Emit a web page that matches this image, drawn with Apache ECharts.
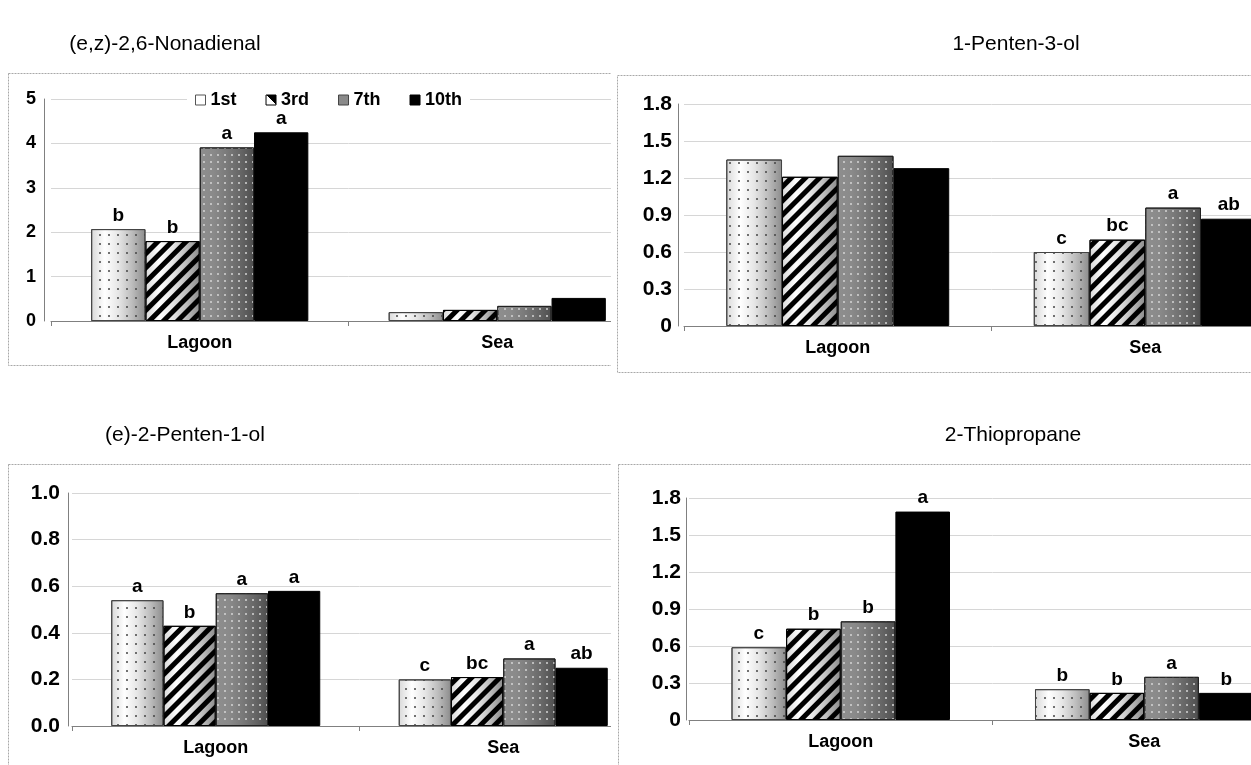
<!DOCTYPE html>
<html><head><meta charset="utf-8">
<script src="https://cdn.jsdelivr.net/npm/echarts@6/dist/echarts.min.js"></script>
<style>
html,body{margin:0;padding:0;background:#fff;width:1251px;height:765px;overflow:hidden;}
.q{position:absolute;overflow:hidden;}
.c{position:absolute;left:0;top:0;}
</style></head><body>
<div class="q" style="left:0;top:0;width:611px;height:382px"><div class="c" id="c1" style="width:720px;height:382px"></div></div>
<div class="q" style="left:612px;top:0;width:639px;height:382px"><div class="c" id="c2" style="width:720px;height:382px"></div></div>
<div class="q" style="left:0;top:382px;width:611px;height:383px"><div class="c" id="c3" style="width:720px;height:383px"></div></div>
<div class="q" style="left:612px;top:382px;width:639px;height:383px"><div class="c" id="c4" style="width:720px;height:383px"></div></div>
<script>
// ---------- data ----------
const categories = ['Lagoon', 'Sea'];
const seriesNames = ['1st', '3rd', '7th', '10th'];

// (e,z)-2,6-Nonadienal  [Lagoon, Sea]
const nonadienal1st  = [2.07, 0.20];
const nonadienal3rd  = [1.80, 0.25];
const nonadienal7th  = [3.91, 0.34];
const nonadienal10th = [4.25, 0.52];
const nonadienalLetters = [['b', ''], ['b', ''], ['a', ''], ['a', '']];
const nonadienalTicks = [0, 1, 2, 3, 4, 5];

// 1-Penten-3-ol
const pentenol1st  = [1.35, 0.60];
const pentenol3rd  = [1.21, 0.70];
const pentenol7th  = [1.38, 0.96];
const pentenol10th = [1.28, 0.87];
const pentenolLetters = [['', 'c'], ['', 'bc'], ['', 'a'], ['', 'ab']];
const pentenolTicks = [0, 0.3, 0.6, 0.9, 1.2, 1.5, 1.8];

// (e)-2-Penten-1-ol
const pentenOne1st  = [0.54, 0.20];
const pentenOne3rd  = [0.43, 0.21];
const pentenOne7th  = [0.57, 0.29];
const pentenOne10th = [0.58, 0.25];
const pentenOneLetters = [['a', 'c'], ['b', 'bc'], ['a', 'a'], ['a', 'ab']];
const pentenOneTicks = ['0.0', '0.2', '0.4', '0.6', '0.8', '1.0'];

// 2-Thiopropane
const thio1st  = [0.59, 0.25];
const thio3rd  = [0.74, 0.22];
const thio7th  = [0.80, 0.35];
const thio10th = [1.69, 0.22];
const thioLetters = [['c', 'b'], ['b', 'b'], ['b', 'a'], ['a', 'b']];
const thioTicks = [0, 0.3, 0.6, 0.9, 1.2, 1.5, 1.8];

// ---------- styles ----------
const FONT = '"Liberation Sans", Arial, sans-serif';
function hgrad(stops) {
  return { type: 'linear', x: 0, y: 0, x2: 1, y2: 0,
    colorStops: stops.map((c, i) => ({ offset: i / (stops.length - 1), color: c })) };
}
const barStyles = [
  { color: hgrad(['#d8d8d8', '#ffffff', '#e6e6e6', '#bdbdbd', '#8c8c8c']), borderColor: '#444', borderWidth: 1,
    decal: { symbol: 'circle', symbolSize: 1, color: '#444', dashArrayX: [2, 7], dashArrayY: [2, 7] } },
  { color: hgrad(['#d8d8d8', '#ffffff', '#e6e6e6', '#bdbdbd', '#8c8c8c']), borderColor: '#000', borderWidth: 1,
    decal: { symbol: 'rect', symbolSize: 1, color: '#000', dashArrayX: [1, 0], dashArrayY: [4.5, 4.5], rotation: -Math.PI / 4 } },
  { color: hgrad(['#8e8e8e', '#8a8a8a', '#7a7a7a', '#666666', '#4e4e4e']), borderColor: '#222', borderWidth: 1,
    decal: { symbol: 'circle', symbolSize: 1, color: '#d4d4d4', dashArrayX: [1.6, 4.6], dashArrayY: [1.6, 4.6] } },
  { color: '#000', borderColor: '#000', borderWidth: 1 }
];
const legendIcons = [
  { color: '#fff', borderColor: '#555', borderWidth: 1, decal: 'none' },
  { color: { type: 'linear', x: 0, y: 1, x2: 1, y2: 0, colorStops: [
      { offset: 0, color: '#fff' }, { offset: 0.5, color: '#fff' }, { offset: 0.5, color: '#000' }, { offset: 1, color: '#000' }] },
    borderColor: '#000', borderWidth: 1, decal: 'none' },
  { color: '#8a8a8a', borderColor: '#444', borderWidth: 1, decal: 'none' },
  { color: '#000', borderColor: '#000', borderWidth: 1, decal: 'none' }
];

function build(el, cfg) {
  const chart = echarts.init(document.getElementById(el), null, { renderer: 'canvas' });
  const ticks = cfg.ticks;
  const step = cfg.step;
  const series = cfg.values.map((vals, s) => ({
    name: seriesNames[s],
    type: 'bar',
    // values expressed in tick-index units so axis labels come from the tick arrays
    data: vals.map(v => v / step),
    barGap: '0%',
    barCategoryGap: cfg.gap,
    itemStyle: barStyles[s],
    label: {
      show: true, position: 'top', distance: 4,
      formatter: p => cfg.letters[s][p.dataIndex],
      fontFamily: FONT, fontWeight: 'bold', fontSize: 19, color: '#000'
    },
    emphasis: { disabled: true }
  }));
  const opt = {
    animation: false,
    backgroundColor: '#fff',
    textStyle: { fontFamily: FONT },
    grid: { left: cfg.left, top: cfg.top, width: cfg.width, height: cfg.height, containLabel: false },
    xAxis: {
      type: 'category', data: categories,
      axisLine: { show: true, lineStyle: { color: '#808080', width: 1 } },
      axisTick: { show: true, length: 5, lineStyle: { color: '#808080' } },
      axisLabel: { fontFamily: FONT, fontWeight: 'bold', fontSize: 18, color: '#000', margin: 13 }
    },
    yAxis: {
      type: 'value', min: 0, max: ticks.length - 1, interval: 1, offset: cfg.yOffset,
      axisLine: { show: true, lineStyle: { color: '#808080', width: 1 } },
      axisTick: { show: false },
      splitLine: { show: true, lineStyle: { color: '#d6d6d6', width: 1 } },
      axisLabel: { fontFamily: FONT, fontWeight: 'bold', fontSize: cfg.tickFont, color: '#000', margin: cfg.labelMargin,
        formatter: v => String(ticks[Math.round(v)]) }
    },
    graphic: [
      { type: 'rect', silent: true, z: -10,
        shape: { x: cfg.box[0] + 0.5, y: cfg.box[1] + 0.5, width: cfg.box[2], height: cfg.box[3] },
        style: { fill: null, stroke: '#a8a8a8', lineWidth: 1, lineDash: [2, 1] } },
      { type: 'text', silent: true, x: cfg.titleX, y: cfg.titleY,
        style: { text: cfg.title, font: '21px ' + FONT, fill: '#000', align: 'center', verticalAlign: 'middle' } }
    ],
    series: series
  };
  if (cfg.legend) {
    opt.legend = {
      show: true, left: cfg.legend[0], top: cfg.legend[1], orient: 'horizontal',
      itemWidth: 10, itemHeight: 10, itemGap: 29, padding: [3, 8],
      backgroundColor: '#fff',
      textStyle: { fontFamily: FONT, fontWeight: 'bold', fontSize: 18, color: '#000' },
      data: seriesNames.map((n, i) => ({ name: n, icon: 'rect', itemStyle: legendIcons[i] }))
    };
  }
  chart.setOption(opt);
  return chart;
}

build('c1', {
  title: '(e,z)-2,6-Nonadienal', titleX: 165, titleY: 44,
  values: [nonadienal1st, nonadienal3rd, nonadienal7th, nonadienal10th],
  letters: nonadienalLetters, ticks: nonadienalTicks, step: 1,
  left: 51, top: 99, width: 595, height: 222, yOffset: 7, gap: '27%',
  tickFont: 18, labelMargin: 8,
  box: [8, 73, 720, 292], legend: [187, 88]
});
build('c2', {
  title: '1-Penten-3-ol', titleX: 404, titleY: 44,
  values: [pentenol1st, pentenol3rd, pentenol7th, pentenol10th],
  letters: pentenolLetters, ticks: pentenolTicks, step: 0.3,
  left: 72, top: 104, width: 615, height: 222, yOffset: 6, gap: '27.5%',
  tickFont: 21, labelMargin: 6,
  box: [5, 75, 720, 297]
});
build('c3', {
  title: '(e)-2-Penten-1-ol', titleX: 185, titleY: 53,
  values: [pentenOne1st, pentenOne3rd, pentenOne7th, pentenOne10th],
  letters: pentenOneLetters, ticks: pentenOneTicks, step: 0.2,
  left: 72, top: 111, width: 575, height: 233, yOffset: 4, gap: '27.3%',
  tickFont: 21, labelMargin: 8,
  box: [8, 82, 720, 400]
});
build('c4', {
  title: '2-Thiopropane', titleX: 401, titleY: 53,
  values: [thio1st, thio3rd, thio7th, thio10th],
  letters: thioLetters, ticks: thioTicks, step: 0.3,
  left: 77, top: 116, width: 607, height: 222, yOffset: 3, gap: '28%',
  tickFont: 21, labelMargin: 5,
  box: [6, 82, 720, 400]
});
</script>
</body></html>
